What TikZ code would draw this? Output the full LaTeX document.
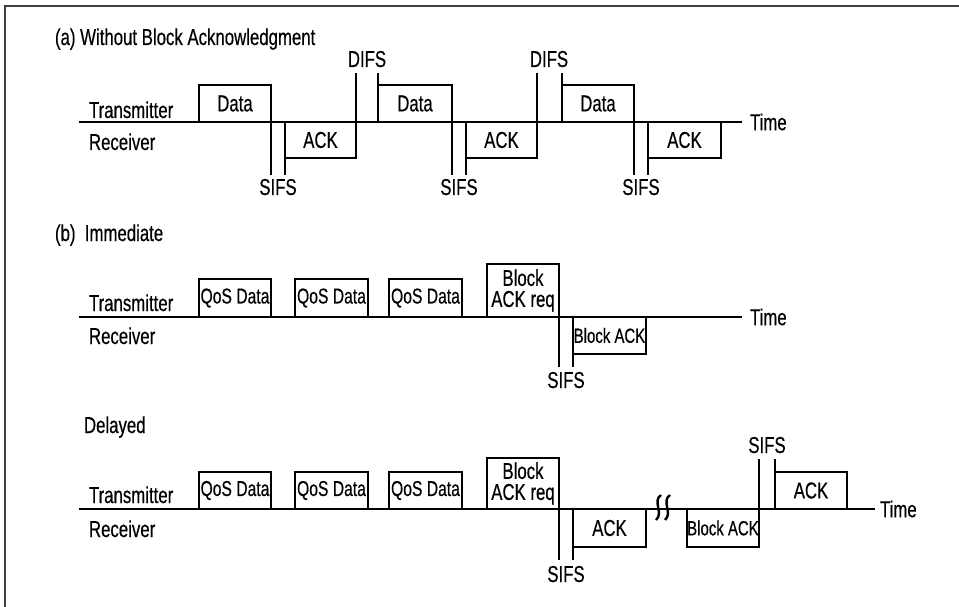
\documentclass[tikz,border=0pt]{standalone}
\usepackage{fontspec}
\setmainfont[FakeStretch=0.73,FakeBold=0.4]{Liberation Sans}
\begin{document}
\begin{tikzpicture}[x=1pt,y=-1pt,
  tline/.style={line width=2.8pt},
  pkt/.style={draw, line width=2.8pt, inner sep=0pt, outer sep=0pt, minimum width=72pt,
    font=\fontsize{23}{21}\selectfont, align=center},
  qospkt/.style={pkt, font=\fontsize{21.5}{21}\selectfont},
  smallpkt/.style={pkt, font=\fontsize{20.5}{21}\selectfont},
  lbl/.style={inner sep=0pt, outer sep=0pt, font=\fontsize{23}{22}\selectfont},
  frameline/.style={line width=1.8pt, draw=black!75},
  squig/.style={line width=2.4pt}]
\useasboundingbox (0,0) rectangle (959,607);
\draw[frameline] (5,607) -- (5,6) -- (959,6);

% ---------------- (a) ----------------
\node[lbl, anchor=base west] (ta) at (55,45) {(a) Without Block Acknowledgment};
\coordinate (a0) at (79,122);
\node[lbl, anchor=west] (timea) at (750,122) {Time};
\draw[tline] (a0) -- ([xshift=-8pt]timea.west);
\node[lbl, anchor=base west] (txa) at (89,118) {Transmitter};
\node[lbl, anchor=base west] (rxa) at (89,150) {Receiver};

\node[pkt, minimum height=37pt, anchor=south west] (ad1) at (199,122) {Data};
\node[pkt, minimum height=36pt, minimum width=71pt, anchor=north west] (ak1) at (285,122) {ACK};
\node[pkt, minimum height=37pt, minimum width=74pt, anchor=south west] (ad2) at (378,122) {Data};
\node[pkt, minimum height=36pt, minimum width=71pt, anchor=north west] (ak2) at (466,122) {ACK};
\node[pkt, minimum height=37pt, anchor=south west] (ad3) at (562,122) {Data};
\node[pkt, minimum height=36pt, minimum width=73pt, anchor=north west] (ak3) at (648,122) {ACK};

% SIFS markers
\draw[tline] (ad1.south east) -- ++(0,53);
\draw[tline] (ak1.north west) -- ++(0,53);
\draw[tline] (ad2.south east) -- ++(0,53);
\draw[tline] (ak2.north west) -- ++(0,53);
\draw[tline] (ad3.south east) -- ++(0,53);
\draw[tline] (ak3.north west) -- ++(0,53);
\node[lbl, anchor=base] (as1) at (278,195) {SIFS};
\node[lbl, anchor=base] (as2) at (459,195) {SIFS};
\node[lbl, anchor=base] (as3) at (641,195) {SIFS};
% DIFS markers
\draw[tline] (ak1.south east) -- ++(0,-85);
\draw[tline] (ad2.south west) -- ++(0,-49);
\draw[tline] (ak2.south east) -- ++(0,-85);
\draw[tline] (ad3.south west) -- ++(0,-49);
\node[lbl, anchor=base] (ad1t) at (367,67) {DIFS};
\node[lbl, anchor=base] (ad2t) at (549,67) {DIFS};

% ---------------- (b) Immediate ----------------
\node[lbl, anchor=base west] (tb) at (55,241) {(b)\ \ Immediate};
\coordinate (b0) at (79,317);
\node[lbl, anchor=west] (timeb) at (750,317) {Time};
\draw[tline] (b0) -- ([xshift=-8pt]timeb.west);
\node[lbl, anchor=base west] (txb) at (89,311) {Transmitter};
\node[lbl, anchor=base west] (rxb) at (89,344) {Receiver};

\node[qospkt, minimum height=38pt, anchor=south west] (bq1) at (199,317) {QoS Data};
\node[qospkt, minimum height=38pt, minimum width=73pt, anchor=south west] (bq2) at (295,317) {QoS Data};
\node[qospkt, minimum height=38pt, minimum width=73pt, anchor=south west] (bq3) at (389,317) {QoS Data};
\node[pkt, minimum height=53pt, anchor=south west] (bbr) at (487,317) {Block\\ACK req};
\node[smallpkt, minimum height=37pt, minimum width=73pt, anchor=north west] (bba) at (573,317) {Block ACK};
\draw[tline] (bbr.south east) -- ++(0,50);
\draw[tline] (bba.north west) -- ++(0,50);
\node[lbl, anchor=base] (bs1) at (566,388) {SIFS};

% ---------------- Delayed ----------------
\node[lbl, anchor=base west] (tc) at (84,433) {Delayed};
\coordinate (c0) at (79,509);
\node[lbl, anchor=west] (timec) at (880,509) {Time};
\draw[tline] (c0) -- ([xshift=-5pt]timec.west);
\node[lbl, anchor=base west] (txc) at (89,503) {Transmitter};
\node[lbl, anchor=base west] (rxc) at (89,537) {Receiver};

\node[qospkt, minimum height=37pt, anchor=south west] (cq1) at (199,509) {QoS Data};
\node[qospkt, minimum height=37pt, minimum width=73pt, anchor=south west] (cq2) at (295,509) {QoS Data};
\node[qospkt, minimum height=37pt, minimum width=73pt, anchor=south west] (cq3) at (389,509) {QoS Data};
\node[pkt, minimum height=51pt, anchor=south west] (cbr) at (487,509) {Block\\ACK req};
\node[pkt, minimum height=38pt, minimum width=73pt, anchor=north west] (ck1) at (573,509) {ACK};
\node[smallpkt, minimum height=38pt, anchor=north west] (cba) at (687,509) {Block ACK};
\node[pkt, minimum height=37pt, anchor=south west] (ck2) at (775,509) {ACK};
\draw[tline] (cbr.south east) -- ++(0,51);
\draw[tline] (ck1.north west) -- ++(0,51);
\node[lbl, anchor=base] (cs1) at (566,582) {SIFS};
\draw[tline] (cba.south east) -- ++(0,-88);
\draw[tline] (ck2.south west) -- ++(0,-50);
\node[lbl, anchor=base] (cs2) at (767,453) {SIFS};
% break mark
\draw[squig] (661,495) .. controls (652,501) and (664,513) .. (656,520);
\draw[squig] (670,495) .. controls (661,501) and (673,513) .. (665,520);
\end{tikzpicture}
\end{document}
